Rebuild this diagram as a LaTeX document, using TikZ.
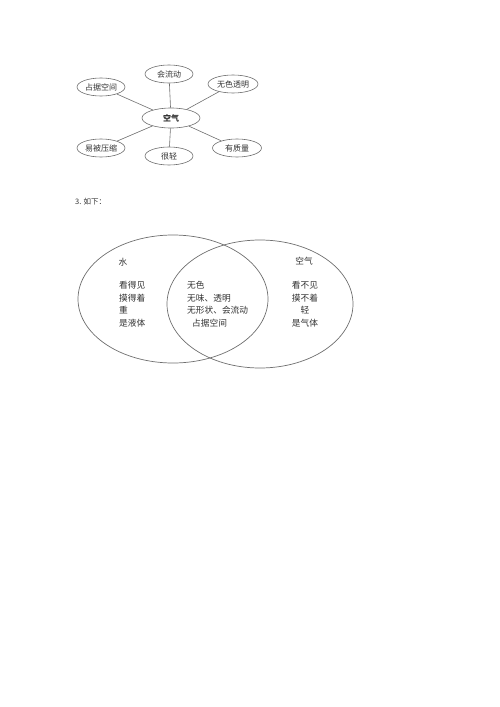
\documentclass[tikz,border=0pt]{standalone}
\usepackage{fontspec}
\newfontfamily\cjk{Noto Sans CJK SC}
\usetikzlibrary{shapes.geometric}
\definecolor{lc}{RGB}{110,110,110}
\definecolor{tc}{RGB}{50,50,50}
\tikzset{
  bub/.style={ellipse,draw=lc,line width=0.6pt,inner sep=0pt,minimum width=48pt,minimum height=18pt,font=\cjk\fontsize{8}{9}\selectfont,text=tc},
  link/.style={draw=lc,line width=0.6pt},
  vt/.style={font=\cjk\fontsize{8.7}{12.6}\selectfont,text=tc,inner sep=0pt},
}
\begin{document}
\begin{tikzpicture}[x=1pt,y=-1pt]
\useasboundingbox (0,0) rectangle (500,707);
% concept map
\node[bub,minimum width=58pt,minimum height=20pt,font=\cjk\bfseries\fontsize{8}{9}\selectfont] (c) at (171,118) {空气};
\node[bub] (a1) at (101,87) {占据空间};
\node[bub] (a2) at (169,74) {会流动};
\node[bub,minimum width=50pt] (a3) at (233,84) {无色透明};
\node[bub] (a4) at (101,148) {易被压缩};
\node[bub] (a5) at (169,156) {很轻};
\node[bub,minimum width=49pt] (a6) at (237,148) {有质量};
\foreach \n in {a1,a2,a3,a4,a5,a6} \draw[link] (c) -- (\n);
% heading
\node[anchor=west,inner sep=0pt,text=tc,font=\cjk\fontsize{7.5}{9}\selectfont] (h) at (75,202) {3. 如下：};
% venn
\node[ellipse,draw=lc,line width=0.7pt,minimum width=190pt,minimum height=128pt,inner sep=0pt] (L) at (173,299) {};
\node[ellipse,draw=lc,line width=0.7pt,minimum width=186pt,minimum height=128pt,inner sep=0pt] (R) at (260,304) {};
\node[vt] (w) at (123,262) {水};
\node[vt] (k) at (304,261) {空气};
\node[vt,anchor=north west,align=left] (lt) at (119,281) {看得见\\摸得着\\重\\是液体};
\node[vt,anchor=north west,align=left] (mt) at (187,281) {无色\\无味、透明\\无形状、会流动\\\hspace*{5pt}占据空间};
\node[vt,anchor=north,align=center] (rt) at (305,281) {看不见\\摸不着\\轻\\是气体};
\end{tikzpicture}
\end{document}
